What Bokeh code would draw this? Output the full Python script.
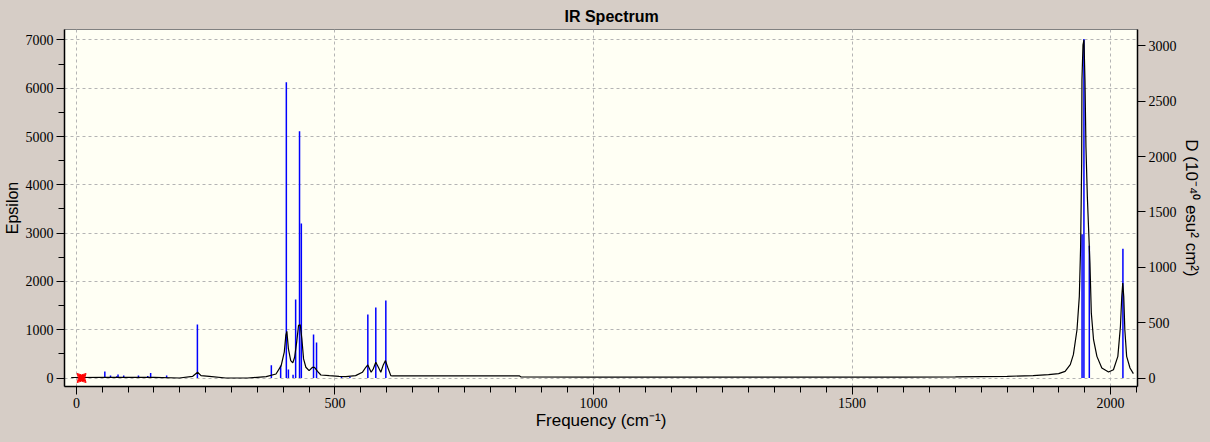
from bokeh.plotting import figure
from bokeh.models import Range1d, LinearAxis, SingleIntervalTicker
from bokeh.embed import file_html
from bokeh.resources import INLINE

# Stick spectrum: frequency (cm^-1) and D (10^-40 esu^2 cm^2)
stick_freq = [43, 55, 66, 78, 80.5, 91.5, 98, 120, 138, 143.6, 174.5, 234,
              377, 395, 406, 410, 419, 424, 431.5, 435, 458.6, 464.4,
              512.7, 529, 563.6, 579, 598.4,
              1944.8, 1948.4, 1958.8, 2023.8]
stick_D = [10, 59, 22, 15, 32, 22, 10, 22, 18, 45, 22, 483,
           116, 113, 2672, 77, 30, 709, 2229, 1396, 393, 321,
           8, 8, 574, 637, 700,
           1300, 3063, 1196, 1169]

# Broadened spectrum (Epsilon)
curve_freq = [-10, 60, 150, 199, 225, 234.4, 241, 257, 289, 331, 367, 386, 396,
              402, 405, 407, 410, 414.5, 418.5, 422, 426, 429.6, 432.9, 436,
              439.3, 443.8, 450, 456.7, 460.5, 466.3, 472.8, 489, 508, 521,
              540, 553, 559.7, 563.5, 570, 574, 579, 584, 588.7, 593, 597.7,
              602, 608, 611, 700, 800, 857, 860, 1000, 1200, 1400, 1600, 1700,
              1800, 1850, 1880, 1899.5, 1912, 1922, 1928, 1935, 1939.5, 1942,
              1943, 1944, 1944.6, 1946.6, 1948.5, 1950.4, 1952.3, 1955, 1957.5,
              1960, 1962.7, 1967, 1973.5, 1983, 1996, 2005.5, 2014, 2019,
              2021.6, 2023.5, 2025.4, 2027.5, 2031, 2037.5, 2044]
curve_eps = [10, 12, 15, 0, 35, 118, 49, 35, 0, 0, 28, 83, 257,
             534, 881, 965, 604, 361, 312, 430, 743, 1090, 1103, 812,
             396, 222, 153, 222, 222, 139, 62, 49, 35, 28,
             49, 118, 222, 270, 118, 187, 326, 222, 118, 257, 361,
             222, 49, 42, 42, 42, 42, 21, 20, 20, 20, 20, 25,
             35, 50, 70, 90, 138, 276, 483, 1000, 1690, 2725,
             3553, 4450, 6175, 6900, 7000, 6175, 4795, 3760, 3070,
             2380, 1345, 793, 448, 207, 124, 172, 448, 1070,
             1690, 1967, 1690, 1000, 448, 207, 90]

marker_freq = [10]
marker_eps = [0]

x_ticks_major = 500
y_ticks_major = 1000
d_ticks_major = 500

TICK_FONT = "Liberation Sans Narrow"
LABEL_FONT = "Liberation Sans"

p = figure(frame_width=1073, frame_height=357,
           x_range=Range1d(-23.0, 2052.0), y_range=Range1d(-176, 7217),
           output_backend="svg", toolbar_location=None,
           min_border_left=59, min_border_right=62, min_border_top=22,
           min_border_bottom=39)
p.extra_y_ranges = {"D": Range1d(-76.8, 3149)}

p.background_fill_color = "#fffff4"
p.border_fill_color = "#d6cdc6"
p.outline_line_color = "#808080"

p.title.text = "IR Spectrum"
p.title.align = "left"
p.title.offset = 500
p.title.text_font = LABEL_FONT
p.title.text_font_size = "16px"
p.title.text_font_style = "bold"
p.title.text_color = "black"

# axes
xa = p.xaxis[0]
xa.ticker = SingleIntervalTicker(interval=x_ticks_major, num_minor_ticks=10)
xa.axis_label = "Frequency (cm⁻¹)"
ya = p.yaxis[0]
ya.ticker = SingleIntervalTicker(interval=y_ticks_major, num_minor_ticks=2)
ya.axis_label = "Epsilon"

ra = LinearAxis(y_range_name="D", axis_label="D (10⁻⁴⁰ esu² cm²)",
                ticker=SingleIntervalTicker(interval=d_ticks_major, num_minor_ticks=0))
p.add_layout(ra, "right")

for ax in [xa, ya, ra]:
    ax.axis_line_color = "black"
    ax.axis_line_width = 1.5
    ax.major_tick_line_color = "black"
    ax.minor_tick_line_color = "black"
    ax.major_tick_out = 8
    ax.major_tick_in = 0
    ax.minor_tick_out = 6
    ax.minor_tick_in = 0
    ax.major_label_text_font = TICK_FONT
    ax.major_label_text_font_size = "14px"
    ax.major_label_text_color = "black"
    ax.major_label_standoff = 3
    ax.axis_label_text_font = LABEL_FONT
    ax.axis_label_text_font_style = "normal"
    ax.axis_label_text_color = "black"
    ax.axis_label_standoff = 2

xa.axis_label_text_font_size = "17px"
ya.axis_label_text_font_size = "16px"
ra.axis_label_text_font_size = "17px"
xa.axis_label_standoff = 0

ra.minor_tick_line_color = None
ra.axis_label_orientation = "vertical"

p.xgrid.grid_line_color = "#b4b4b4"
p.xgrid.grid_line_dash = "3 3"
p.ygrid.grid_line_color = "#b4b4b4"
p.ygrid.grid_line_dash = "3 3"

p.segment(x0=stick_freq, y0=[0] * len(stick_freq), x1=stick_freq, y1=stick_D,
          y_range_name="D", line_color="#0000ff", line_width=1.5)
p.line(curve_freq, curve_eps, line_color="black", line_width=1.2)
p.scatter(marker_freq, marker_eps, marker="square_pin", size=9,
          fill_color="#ff0000", line_color="#ff0000")

html = file_html(p, INLINE)
html = html.replace("<head>", "<head><style>body{background:#d6cdc6;}</style>", 1)
open("out.html", "w").write(html)
